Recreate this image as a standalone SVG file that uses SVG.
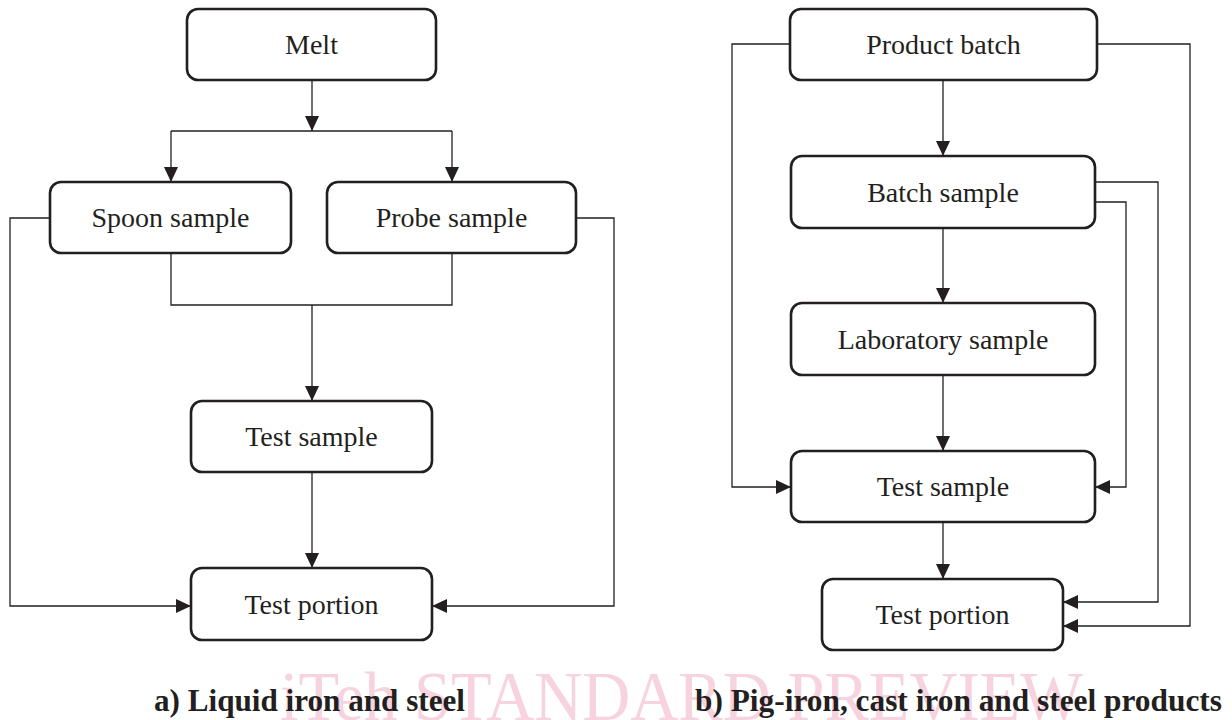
<svg xmlns="http://www.w3.org/2000/svg" width="1232" height="720" viewBox="0 0 1232 720">
  <style>
    .box { fill: #ffffff; stroke: #231f20; stroke-width: 2.6; }
    .lbl { font-family: "Liberation Serif", "Times New Roman", serif; font-size: 28px; fill: #231f20; text-anchor: middle; }
    .cap { font-family: "Liberation Serif", "Times New Roman", serif; font-size: 31px; font-weight: bold; fill: #231f20; }
    .wm { font-family: "Liberation Serif", "Times New Roman", serif; font-size: 70px; fill: #f7d3df; }
    .ln { fill: none; stroke: #231f20; stroke-width: 1.3; }
    .arr { marker-end: url(#head); }
  </style>
  <defs>
    <marker id="head" markerUnits="userSpaceOnUse" markerWidth="16" markerHeight="16" refX="15" refY="7" orient="auto">
      <path d="M0,0 L15,7 L0,14 z" fill="#231f20"/>
    </marker>
  </defs>
  <rect width="1232" height="720" fill="#ffffff"/>

  <!-- watermark behind the captions -->
  <text class="wm" x="280" y="720" textLength="803" lengthAdjust="spacingAndGlyphs">iTeh STANDARD PREVIEW</text>

  <g id="connectors">
    <!-- a) liquid iron and steel -->
    <path class="ln arr" d="M312,80 V131"/>
    <path class="ln" d="M171,131 H452"/>
    <path class="ln arr" d="M171,131 V182"/>
    <path class="ln arr" d="M452,131 V182"/>
    <path class="ln" d="M171,253 V305 H452 V253"/>
    <path class="ln arr" d="M312,305 V401"/>
    <path class="ln arr" d="M312,472 V568"/>
    <path class="ln arr" d="M50,218 H10 V606 H191"/>
    <path class="ln arr" d="M576,218 H614 V606 H432"/>

    <!-- b) pig-iron, cast iron and steel products -->
    <path class="ln arr" d="M943,80 V156"/>
    <path class="ln arr" d="M943,228 V303"/>
    <path class="ln arr" d="M943,375 V451"/>
    <path class="ln arr" d="M943,522 V579"/>
    <path class="ln arr" d="M791,44 H732 V487 H791"/>
    <path class="ln arr" d="M1097,44 H1190 V626 H1063"/>
    <path class="ln arr" d="M1095,182 H1158 V602 H1063"/>
    <path class="ln arr" d="M1095,202 H1126 V487 H1095"/>
  </g>

  <!-- a) nodes -->
  <g id="melt">
    <rect class="box" x="187" y="9" width="249" height="71" rx="11"/>
    <text class="lbl" x="311.5" y="54">Melt</text>
  </g>
  <g id="spoon-sample">
    <rect class="box" x="50" y="182" width="241" height="71" rx="11"/>
    <text class="lbl" x="170.5" y="227">Spoon sample</text>
  </g>
  <g id="probe-sample">
    <rect class="box" x="327" y="182" width="249" height="71" rx="11"/>
    <text class="lbl" x="451.5" y="227">Probe sample</text>
  </g>
  <g id="test-sample-a">
    <rect class="box" x="191" y="401" width="241" height="71" rx="11"/>
    <text class="lbl" x="311.5" y="446">Test sample</text>
  </g>
  <g id="test-portion-a">
    <rect class="box" x="191" y="568" width="241" height="72" rx="11"/>
    <text class="lbl" x="311.5" y="613.5">Test portion</text>
  </g>

  <!-- b) nodes -->
  <g id="product-batch">
    <rect class="box" x="790" y="9" width="307" height="71" rx="11"/>
    <text class="lbl" x="943.5" y="54">Product batch</text>
  </g>
  <g id="batch-sample">
    <rect class="box" x="791" y="156" width="304" height="72" rx="11"/>
    <text class="lbl" x="943" y="201.5">Batch sample</text>
  </g>
  <g id="laboratory-sample">
    <rect class="box" x="791" y="303" width="304" height="72" rx="11"/>
    <text class="lbl" x="943" y="348.5">Laboratory sample</text>
  </g>
  <g id="test-sample-b">
    <rect class="box" x="791" y="451" width="304" height="71" rx="11"/>
    <text class="lbl" x="943" y="496">Test sample</text>
  </g>
  <g id="test-portion-b">
    <rect class="box" x="822" y="579" width="241" height="71" rx="11"/>
    <text class="lbl" x="942.5" y="624">Test portion</text>
  </g>

  <!-- captions -->
  <text class="cap" x="154" y="711" textLength="311" lengthAdjust="spacingAndGlyphs">a) Liquid iron and steel</text>
  <text class="cap" x="695" y="711" textLength="527" lengthAdjust="spacingAndGlyphs">b) Pig-iron, cast iron and steel products</text>
</svg>
